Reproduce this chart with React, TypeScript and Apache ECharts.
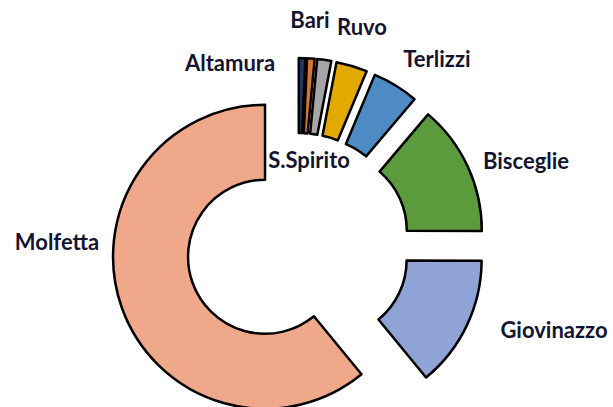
import React, { useEffect, useRef } from "react";
import * as echarts from "echarts";

const towns = ["Altamura", "Bari", "Ruvo", "S.Spirito", "Terlizzi", "Bisceglie", "Giovinazzo", "Molfetta"];
const shares = [0.7, 0.8, 1.5, 3.3, 4.9, 13.9, 14.0, 61.0];
const colors = ["#203864", "#D9752C", "#A5A5A5", "#E2A900", "#4E8AC4", "#5C9B3D", "#8FA3D6", "#F0A88A"];
// label centres (px) as placed in the reference
const labelX = [230, 310, 362, 309, 437, 526, 554, 57];
const labelY = [62, 19, 26, 159, 58, 160, 329, 241];

export default function App() {
  const ref = useRef<HTMLDivElement>(null);
  useEffect(() => {
    if (!ref.current) return;
    const chart = echarts.init(ref.current, undefined, { renderer: "svg" });
    const itemStyle = { borderColor: "#000", borderWidth: 2.5 };
    chart.setOption({
      animation: false,
      backgroundColor: "#fff",
      graphic: towns.map((name, i) => ({
        type: "text",
        x: labelX[i],
        y: labelY[i],
        z: 10,
        style: {
          text: name,
          fontFamily: "Lato",
          fontWeight: "bold",
          fontSize: 22,
          fill: "#141430",
          align: "center",
          verticalAlign: "middle",
        },
      })),
      series: [
        {
          type: "pie",
          center: [298, 245],
          radius: [77, 152],
          startAngle: 90,
          clockwise: true,
          selectedMode: "multiple",
          selectedOffset: 35,
          itemStyle,
          emphasis: { disabled: true },
          select: { itemStyle },
          label: { show: false },
          labelLine: { show: false },
          data: towns.map((name, i) => ({
            name,
            value: shares[i],
            selected: true,
            itemStyle: { color: colors[i] },
          })),
        },
      ],
    });
    return () => chart.dispose();
  }, []);
  return (
    <div
      ref={ref}
      style={{ position: "fixed", left: 0, top: 0, width: 613, height: 407 }}
    />
  );
}
